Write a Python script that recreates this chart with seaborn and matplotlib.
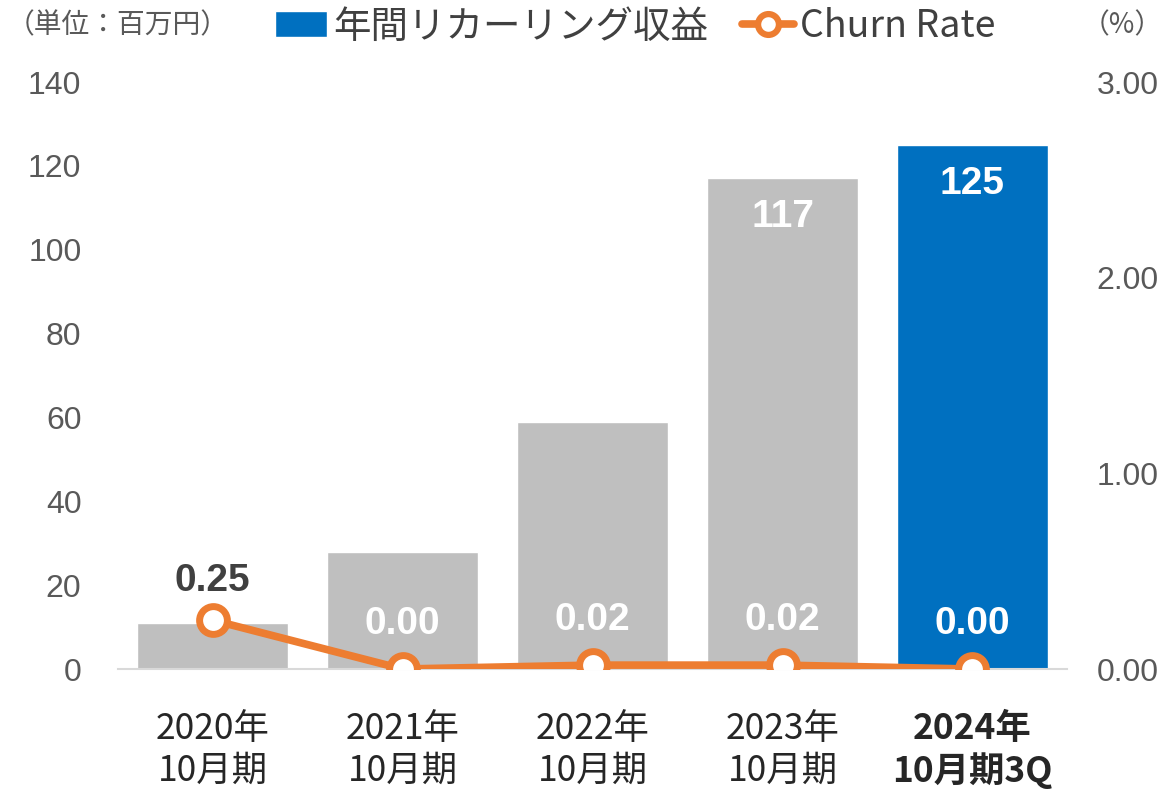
import matplotlib
matplotlib.use('Agg')
import matplotlib.pyplot as plt
from matplotlib.patches import Patch
from matplotlib.lines import Line2D
import seaborn as sns
import pandas as pd

periods = ['2020年\n10月期', '2021年\n10月期', '2022年\n10月期', '2023年\n10月期', '2024年\n10月期3Q']
revenue = [11, 28, 59, 117, 125]
churn = [0.25, 0.00, 0.02, 0.02, 0.00]
bar_colors = ['#BFBFBF', '#BFBFBF', '#BFBFBF', '#BFBFBF', '#0070C0']

sns.set_style('white')
plt.rcParams['font.family'] = ['Liberation Sans', 'Noto Sans CJK JP', 'DejaVu Sans']
cjk = ['Noto Sans CJK JP', 'DejaVu Sans']

df = pd.DataFrame({'period': periods, 'revenue': revenue, 'churn': churn})

fig = plt.figure(figsize=(11.65, 7.94), dpi=100)
ax = fig.add_axes([0.1009, 0.1574, 0.8154, 0.7393])

sns.barplot(data=df, x='period', y='revenue', hue='period', palette=bar_colors,
            width=0.79, legend=False, ax=ax, saturation=1)
ax.set_ylim(0, 140)
ax.set_xlim(-0.5, 4.5)
ax.set_yticks(range(0, 141, 20))
ax.set_xlabel('')
ax.set_ylabel('')
for s in ['top', 'right', 'left']:
    ax.spines[s].set_visible(False)
ax.spines['bottom'].set_color('#D9D9D9')
ax.spines['bottom'].set_linewidth(1.5)
ax.tick_params(axis='y', labelsize=23, labelcolor='#595959', length=0, pad=26)
ax.tick_params(axis='x', length=0, pad=30)
ax.set_xticks(range(len(periods)))
ax.set_xticklabels(periods, fontsize=25.5, color='#262626', linespacing=1.22,
                   family=cjk)
ax.get_xticklabels()[-1].set_fontweight('bold')

# bar value labels for the two tall bars
for i in [3, 4]:
    ax.text(i, revenue[i] - 5, str(revenue[i]), ha='center', va='top',
            fontsize=28, fontweight='bold', color='white')

ax2 = ax.twinx()
sns.lineplot(x=list(range(len(periods))), y=churn, ax=ax2, color='#ED7D31',
             linewidth=5.5, marker='o', markersize=20, markerfacecolor='white',
             markeredgecolor='#ED7D31', markeredgewidth=5, zorder=5)
ax2.set_ylim(0, 3.0)
ax2.set_yticks([0, 1, 2, 3])
ax2.set_yticklabels(['0.00', '1.00', '2.00', '3.00'])
ax2.tick_params(axis='y', labelsize=23, labelcolor='#595959', length=0, pad=21)
for s in ['top', 'right', 'left', 'bottom']:
    ax2.spines[s].set_visible(False)
ax2.set_xlim(-0.5, 4.5)

for i, v in enumerate(churn):
    if i == 0:
        ax2.text(i, v + 0.11, f'{v:.2f}', ha='center', va='bottom',
                 fontsize=28, fontweight='bold', color='#404040')
    else:
        ax2.text(i, v + 0.14, f'{v:.2f}', ha='center', va='bottom',
                 fontsize=28, fontweight='bold', color='white')

fig.text(0.006, 0.968, '（単位：百万円）', fontsize=20, color='#595959',
         va='center', ha='left', family=cjk)
fig.text(0.998, 0.968, '（%）', fontsize=20, color='#595959',
         va='center', ha='right', family=cjk)

handles = [Patch(facecolor='#0070C0'),
           Line2D([0], [0], color='#ED7D31', linewidth=5.5, marker='o', markersize=15,
                  markerfacecolor='white', markeredgecolor='#ED7D31', markeredgewidth=4.5)]
fig.legend(handles, ['年間リカーリング収益', 'Churn Rate'], loc='center',
           bbox_to_anchor=(0.545, 0.966), ncol=2, frameon=False,
           prop={'family': cjk, 'size': 27},
           labelcolor='#404040', handlelength=1.4, handletextpad=0.15,
           columnspacing=0.9)

fig.savefig('out.png', dpi=100)
